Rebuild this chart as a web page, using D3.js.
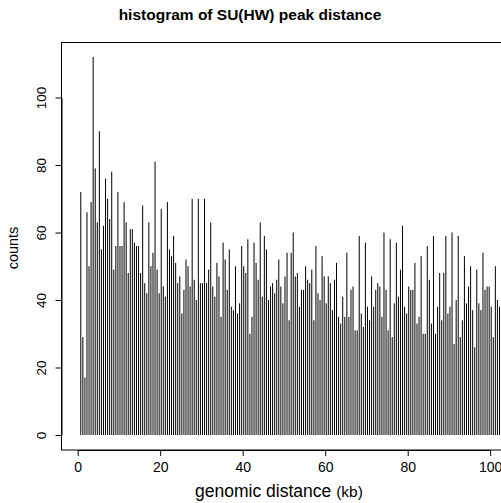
<!DOCTYPE html>
<html>
<head>
<meta charset="utf-8">
<script src="https://cdn.jsdelivr.net/npm/d3@7"></script>
<style>
  body { margin: 0; background: #fff; }
  text { font-family: "Liberation Sans", Arial, Helvetica, sans-serif; }
</style>
</head>
<body>
<svg id="chart" width="501" height="503"></svg>
<script>
// Histogram of peak-to-peak genomic distances, 0.5 kb bins
const binWidth = 0.5;      // kb
const firstBinMid = 0.75;  // kb, midpoint of the first bin
const counts = [
  72, 29, 17, 66, 50, 69, 112, 79, 63, 90, 55, 62, 76, 70, 64, 78, 49, 56, 72, 56,
  56, 69, 63, 48, 61, 61, 57, 56, 56, 48, 68, 45, 42, 63, 50, 54, 81, 49, 42, 67,
  44, 41, 69, 55, 53, 59, 51, 45, 47, 36, 43, 52, 50, 44, 70, 46, 40, 70, 45, 45,
  70, 45, 49, 63, 44, 41, 51, 47, 35, 57, 52, 43, 55, 38, 37, 50, 36, 39, 56, 50,
  48, 58, 30, 35, 57, 51, 46, 63, 41, 59, 55, 40, 44, 45, 42, 46, 52, 44, 39, 47,
  54, 34, 54, 60, 47, 48, 38, 43, 43, 50, 46, 45, 49, 34, 56, 42, 40, 53, 47, 39,
  47, 45, 37, 46, 51, 35, 33, 41, 35, 54, 35, 43, 44, 31, 31, 59, 36, 32, 57, 38,
  34, 47, 38, 43, 45, 44, 35, 60, 43, 31, 58, 29, 39, 57, 41, 49, 62, 38, 36, 44,
  43, 43, 51, 33, 35, 53, 30, 30, 56, 46, 33, 59, 30, 38, 48, 34, 48, 59, 36, 38,
  60, 27, 40, 59, 29, 34, 53, 39, 44, 50, 37, 26, 49, 39, 37, 54, 43, 44, 44, 38,
  29, 50, 40, 38, 48
];
const xTicks = [0, 20, 40, 60, 80, 100];
const yTicks = [0, 20, 40, 60, 80, 100];

const titleText = "histogram of SU(HW) peak distance";
const xLabel = "genomic distance ";
const xUnit = "(kb)";
const yLabel = "counts";

const data = counts.map((c, i) => ({ mid: firstBinMid + i * binWidth, count: c }));

const svg = d3.select("#chart");

// plot frame
const box = { left: 61.5, top: 42.5, right: 560, bottom: 450 };

const x = d3.scaleLinear().domain([0, 100]).range([77.7, 490.2]);
const y = d3.scaleLinear().domain([0, 100]).range([435, 97.5]);

svg.append("clipPath").attr("id", "plotClip")
  .append("rect")
  .attr("x", box.left).attr("y", box.top)
  .attr("width", box.right - box.left).attr("height", box.bottom - box.top);

// vertical spikes, one per bin
svg.append("g")
  .attr("clip-path", "url(#plotClip)")
  .selectAll("line")
  .data(data)
  .join("line")
  .attr("x1", d => x(d.mid)).attr("x2", d => x(d.mid))
  .attr("y1", y(0)).attr("y2", d => y(d.count))
  .attr("stroke", "#000")
  .attr("stroke-width", 1);

svg.append("rect")
  .attr("x", box.left).attr("y", box.top)
  .attr("width", box.right - box.left).attr("height", box.bottom - box.top)
  .attr("fill", "none").attr("stroke", "#000").attr("stroke-width", 1);

// x axis
const gx = svg.append("g")
  .attr("transform", `translate(0,${box.bottom})`)
  .call(d3.axisBottom(x).tickValues(xTicks).tickSize(6).tickSizeOuter(0).tickPadding(6));
gx.select(".domain").attr("stroke", "#000");
gx.selectAll(".tick line").attr("stroke", "#000");
gx.selectAll(".tick text").attr("font-size", 14).attr("fill", "#000")
  .attr("font-family", "Liberation Sans, Arial, sans-serif");

// y axis, labels rotated as in base graphics
const gy = svg.append("g")
  .attr("transform", `translate(${box.left},0)`)
  .call(d3.axisLeft(y).tickValues(yTicks).tickSize(6).tickSizeOuter(0));
gy.select(".domain").attr("stroke", "#000");
gy.selectAll(".tick line").attr("stroke", "#000");
gy.selectAll(".tick text")
  .attr("x", null).attr("dy", null)
  .attr("text-anchor", "middle")
  .attr("transform", "translate(-16,0) rotate(-90)")
  .attr("font-size", 13.5).attr("fill", "#000")
  .attr("font-family", "Liberation Sans, Arial, sans-serif");

// title
svg.append("text")
  .attr("x", 250).attr("y", 20)
  .attr("text-anchor", "middle")
  .attr("font-weight", "bold")
  .attr("font-size", 15.5)
  .text(titleText);

// x label
const xl = svg.append("text")
  .attr("x", 279).attr("y", 497)
  .attr("text-anchor", "middle")
  .attr("font-size", 17.5);
xl.append("tspan").text(xLabel);
xl.append("tspan").attr("font-size", 15.5).text(xUnit);

// y label
svg.append("text")
  .attr("transform", "translate(18,248) rotate(-90)")
  .attr("text-anchor", "middle")
  .attr("font-size", 14.5)
  .text(yLabel);
</script>
</body>
</html>
